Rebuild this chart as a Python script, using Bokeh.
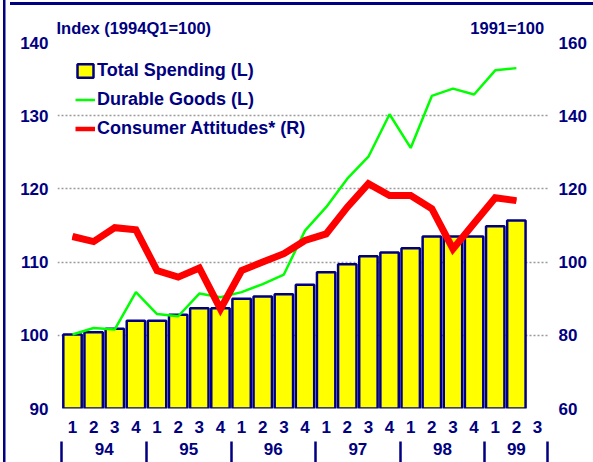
from bokeh.plotting import figure
from bokeh.models import Range1d, LinearAxis, FixedTicker, Legend, LegendItem
from bokeh.embed import file_html
from bokeh.resources import INLINE

# ---- data ----
quarters = ["1", "2", "3", "4"] * 5 + ["1", "2", "3"]
years = ["94", "95", "96", "97", "98", "99"]
total_spending = [100.1, 100.4, 100.9, 102.0, 102.0, 102.8, 103.7, 103.7, 105.0, 105.3, 105.6,
                  106.9, 108.6, 109.7, 110.8, 111.3, 111.9, 113.5, 113.5, 113.5, 114.9, 115.7]
durable_goods = [100.1, 101.0, 100.8, 105.9, 102.9, 102.6, 105.7, 105.2, 105.9, 107.0, 108.3,
                 114.3, 117.5, 121.4, 124.4, 130.2, 125.6, 132.7, 133.7, 132.9, 136.2, 136.5]
consumer_attitudes = [107.0, 105.6, 109.4, 108.8, 97.7, 95.9, 98.4, 87.2, 97.7, 100.0, 102.3,
                      105.9, 107.7, 115.0, 121.4, 118.2, 118.2, 114.6, 103.6, 110.6, 117.6, 116.8]
left_ticks = [90, 100, 110, 120, 130, 140]
right_ticks = [60, 80, 100, 120, 140, 160]
unit_labels = ["Index (1994Q1=100)", "1991=100"]

NAVY = "#000080"
FONT = "Liberation Sans"

xs = list(range(len(total_spending)))
q_pos = list(range(len(quarters)))
year_pos = [1.5, 5.5, 9.5, 13.5, 17.5, 21.0]
sep_pos = [-0.5, 3.5, 7.5, 11.5, 15.5, 19.5, 22.49]
unit_pos = [2.9, 20.57]

p = figure(width=593, height=462, output_backend="svg", toolbar_location=None,
           x_range=Range1d(-0.71, 22.52), y_range=Range1d(90, 140),
           min_border_left=57, min_border_right=45, min_border_top=42, min_border_bottom=54,
           x_axis_location=None, y_axis_location=None)
p.outline_line_color = None
p.background_fill_color = None
p.border_fill_color = None
p.styles = {
    "background-color": "white",
    "background-image": "linear-gradient(#000080, #000080), linear-gradient(#000080, #000080)",
    "background-position": "3px 0px, 10px 2px",
    "background-size": "2.5px 100%, 100% 3px",
    "background-repeat": "no-repeat, no-repeat",
}
p.extra_y_ranges = {"r": Range1d(60, 160)}

p.xgrid.visible = False
p.ygrid.ticker = FixedTicker(ticks=left_ticks)
p.ygrid.grid_line_color = "#9a9a9a"
p.ygrid.grid_line_dash = "2 2"
p.ygrid.grid_line_width = 1.5

def style_axis(ax, size="17px"):
    ax.axis_line_color = None
    ax.major_tick_line_color = None
    ax.minor_tick_line_color = None
    ax.major_label_text_font = FONT
    ax.major_label_text_font_style = "bold"
    ax.major_label_text_font_size = size
    ax.major_label_text_color = NAVY

yl = LinearAxis(ticker=FixedTicker(ticks=left_ticks))
style_axis(yl)
yl.major_label_standoff = 3
p.add_layout(yl, "left")

yr = LinearAxis(y_range_name="r", ticker=FixedTicker(ticks=right_ticks))
style_axis(yr)
yr.major_label_standoff = 4
p.add_layout(yr, "right")

xu = LinearAxis(ticker=FixedTicker(ticks=unit_pos),
                major_label_overrides={t: u for t, u in zip(unit_pos, unit_labels)})
style_axis(xu, "16.5px")
xu.major_label_standoff = 0
p.add_layout(xu, "above")

xq = LinearAxis(ticker=FixedTicker(ticks=q_pos),
                major_label_overrides={i: q for i, q in enumerate(quarters)})
style_axis(xq)
xq.major_label_standoff = 6
p.add_layout(xq, "below")

xy = LinearAxis(ticker=FixedTicker(ticks=year_pos, minor_ticks=sep_pos),
                major_label_overrides={t: y for t, y in zip(year_pos, years)})
style_axis(xy)
xy.minor_tick_line_color = NAVY
xy.minor_tick_line_width = 2.5
xy.minor_tick_in = -6
xy.minor_tick_out = 28
xy.major_label_standoff = -21
p.add_layout(xy, "below")

bars = p.vbar(x=xs, top=total_spending, bottom=90, width=0.87,
              fill_color="#FFFF00", line_color=NAVY, line_width=2.5)
green = p.line(xs, durable_goods, line_color="#00FF00", line_width=2.5)
red_key = p.line(xs, consumer_attitudes, y_range_name="r", line_color="#FF0000", line_width=4.5)
red = p.line(xs, consumer_attitudes, y_range_name="r", line_color="#FF0000", line_width=7,
             line_join="miter")

legend = Legend(items=[LegendItem(label="Total Spending (L)", renderers=[bars]),
                       LegendItem(label="Durable Goods (L)", renderers=[green]),
                       LegendItem(label="Consumer Attitudes* (R)", renderers=[red_key])],
                location="top_left", margin=0, padding=18, spacing=8,
                glyph_width=20, glyph_height=17, label_standoff=2,
                label_text_font=FONT, label_text_font_style="bold",
                label_text_font_size="18px", label_text_color=NAVY,
                background_fill_alpha=0, border_line_alpha=0)
p.add_layout(legend)

open("out.html", "w").write(file_html(p, INLINE))
